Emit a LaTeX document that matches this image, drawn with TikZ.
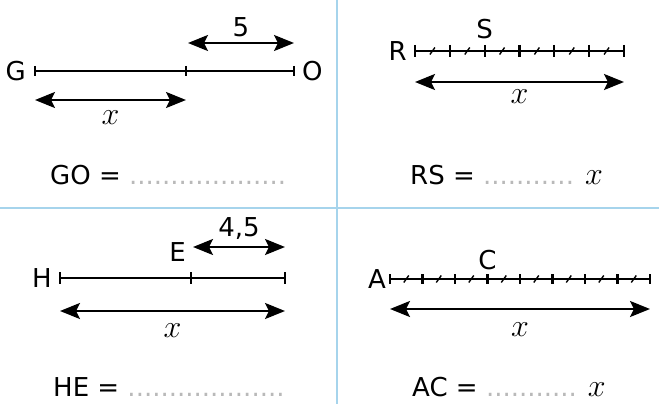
\RequirePackage{fix-cm}
\documentclass[tikz,border=0pt]{standalone}
\usepackage{fontspec}
\setmainfont{DejaVu Sans}
\usetikzlibrary{arrows.meta,positioning}
\usepackage{xcolor}
\definecolor{gridblue}{RGB}{166,212,236}
\definecolor{dotgray}{RGB}{185,185,185}
\newcommand{\blanks}[1]{{\color{dotgray}#1}}
\newcommand{\xx}{{\fontsize{32}{34}\selectfont$x$}}

\begin{document}
\begin{tikzpicture}[x=1pt,y=-1pt]
      \tikzstyle{lbl} = [font=\fontsize{26}{30}\selectfont, inner sep=0pt]
      \tikzstyle{seg} = [line width=2.2pt]
      \tikzstyle{slash} = [line width=1.4pt]
      \tikzstyle{measure} = [line width=2.4pt, {Stealth[length=20pt,width=16pt,inset=4pt]}-{Stealth[length=20pt,width=16pt,inset=4pt]}]
      \useasboundingbox (0,0) rectangle (659,404);

      % grid
      \draw[gridblue, line width=2.5pt] (337,0) -- (337,404);
      \draw[gridblue, line width=2.5pt] (0,208) -- (659,208);

      % GO
      \coordinate (G) at (35,71);
      \coordinate (M1) at (186,71);
      \coordinate (O) at (294,71);
      \draw[seg] (G) -- (O);
      \foreach \p in {G,M1,O} \draw[seg] (\p) ++(0,-5) -- ++(0,10);
      \node[lbl, left=9pt of G] (lG) {G};
      \node[lbl, right=8pt of O] (lO) {O};
      \coordinate (a5) at (188,43);
      \coordinate (b5) at (294,43);
      \draw[measure] (a5) -- (b5) node[lbl, midway, above=5pt] (l5) {5};
      \coordinate (ax1) at (35,100);
      \coordinate (bx1) at (186,100);
      \draw[measure] (ax1) -- (bx1) node[lbl, midway, below=10pt] (lx1) {\xx};
      \node[lbl, anchor=west] (go) at (50,175) {GO = \blanks{...................}};

      % RS
      \coordinate (R) at (415,51);
      \coordinate (Rend) at (624,51);
      \coordinate (S) at (484.7,51);
      \draw[seg] (R) -- (Rend);
      \foreach \i in {0,2,...,12} \draw[seg] ({415+\i*209/12},45) -- ++(0,12);
      \foreach \i in {1,3,...,11} \draw[slash] ({415+\i*209/12-2.5},54.5) -- ++(5,-7);
      \node[lbl, left=8pt of R] (lR) {R};
      \node[lbl, above=12pt of S] (lS) {S};
      \coordinate (ax2) at (415,82);
      \coordinate (bx2) at (624,82);
      \draw[measure] (ax2) -- (bx2) node[lbl, midway, below=7pt] (lx2) {\xx};
      \node[lbl, anchor=west] (rs) at (410,175) {RS = \blanks{...........} \xx};

      % HE
      \coordinate (H) at (60,278);
      \coordinate (E) at (191,278);
      \coordinate (Hend) at (285,278);
      \draw[seg] (H) -- (Hend);
      \foreach \p in {H,E,Hend} \draw[seg] (\p) ++(0,-6) -- ++(0,12);
      \node[lbl, left=8pt of H] (lH) {H};
      \node[lbl, above left=16pt and 5pt of E] (lE) {E};
      \coordinate (a45) at (193,247);
      \coordinate (b45) at (285,247);
      \draw[measure] (a45) -- (b45) node[lbl, midway, above=6pt] (l45) {4,5};
      \coordinate (ax3) at (60,311);
      \coordinate (bx3) at (285,311);
      \draw[measure] (ax3) -- (bx3) node[lbl, midway, below=12pt] (lx3) {\xx};
      \node[lbl, anchor=west] (he) at (53,387) {HE = \blanks{...................}};

      % AC
      \coordinate (A) at (390,279);
      \coordinate (Aend) at (650,279);
      \coordinate (C) at (487.5,279);
      \draw[seg] (A) -- (Aend);
      \foreach \i in {0,2,...,16} \draw[seg] ({390+\i*260/16},274) -- ++(0,10);
      \foreach \i in {1,3,...,15} \draw[slash] ({390+\i*260/16-2.5},282.5) -- ++(5,-7);
      \node[lbl, left=4pt of A] (lA) {A};
      \node[lbl, above=9pt of C] (lC) {C};
      \coordinate (ax4) at (390,309);
      \coordinate (bx4) at (650,309);
      \draw[measure] (ax4) -- (bx4) node[lbl, midway, below=13pt] (lx4) {\xx};
      \node[lbl, anchor=west] (ac) at (412,387) {AC = \blanks{...........} \xx};
    \end{tikzpicture}
\end{document}
